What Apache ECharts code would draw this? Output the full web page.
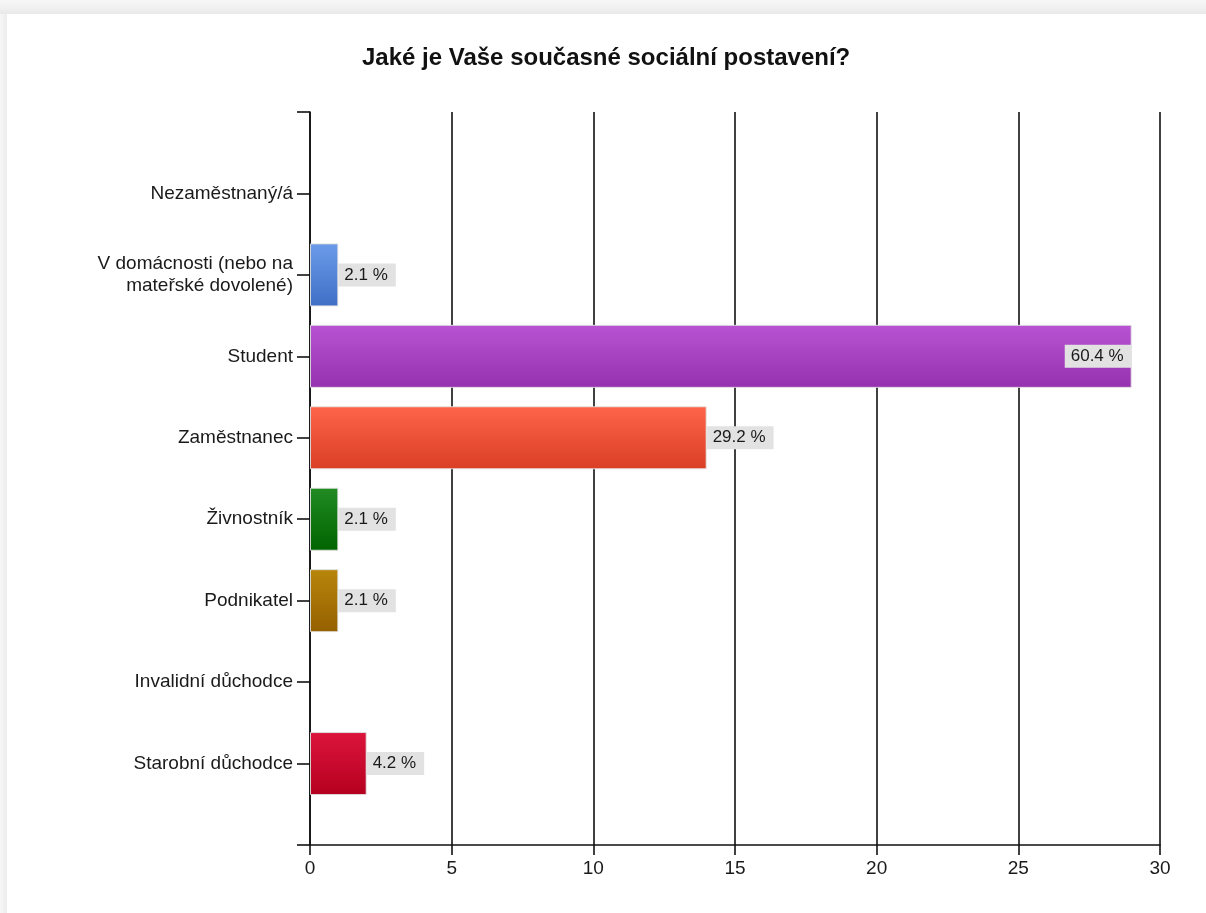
<!DOCTYPE html>
<html>
<head>
<meta charset="utf-8">
<script src="https://cdn.jsdelivr.net/npm/echarts@6/dist/echarts.min.js"></script>
<style>
  html, body { margin: 0; padding: 0; background: #ffffff; }
  #chart { width: 1206px; height: 913px; }
</style>
</head>
<body>
<div id="chart"></div>
<script>
// ---- data ----
const titleText = 'Jaké je Vaše současné sociální postavení?';
const categories = [
  'Nezaměstnaný/á',
  'V domácnosti (nebo na\nmateřské dovolené)',
  'Student',
  'Zaměstnanec',
  'Živnostník',
  'Podnikatel',
  'Invalidní důchodce',
  'Starobní důchodce'
];
const counts = [0, 1, 29, 14, 1, 1, 0, 2];
const percentLabels = [null, 2.1, 60.4, 29.2, 2.1, 2.1, null, 4.2];
const xMin = 0, xMax = 30, xStep = 5;

// ---- styles ----
const barGradients = [
  ['#6b9be8', '#3f6fc6'],
  ['#6b9be8', '#3f6fc6'],
  ['#b853d3', '#9530ae'],
  ['#fe6449', '#da3f25'],
  ['#228b22', '#006400'],
  ['#b8860b', '#956000'],
  ['#6b9be8', '#3f6fc6'],
  ['#dc143c', '#b5001f']
];
const insideLabel = [false, false, true, false, false, false, false, false];

const FONT = '"Liberation Sans", Arial, sans-serif';

// pad with an empty slot at top and bottom so categories sit like the reference
const axisCats = [''].concat(categories, ['']);
const barData = [null].concat(counts.map(function (v, i) {
  const g = barGradients[i];
  const p = percentLabels[i];
  return {
    value: v,
    itemStyle: {
      color: new echarts.graphic.LinearGradient(0, 0, 0, 1, [
        { offset: 0, color: g[0] },
        { offset: 1, color: g[1] }
      ]),
      borderColor: v > 0 ? 'rgba(225,225,225,0.9)' : 'transparent',
      borderWidth: v > 0 ? 1 : 0
    },
    label: {
      show: p !== null,
      position: insideLabel[i] ? 'insideRight' : 'right',
      distance: 0,
      formatter: p !== null ? p.toFixed(1) + ' %' : ''
    }
  };
}), [null]);

const chart = echarts.init(document.getElementById('chart'), null, { renderer: 'canvas' });
chart.setOption({
  backgroundColor: '#ffffff',
  animation: false,
  title: {
    text: titleText,
    left: 362,
    top: 46,
    padding: 0,
    textStyle: { fontFamily: FONT, fontSize: 24, fontWeight: 'bold', color: '#111111' }
  },
  graphic: [
    {
      type: 'rect', z: -10, silent: true,
      shape: { x: 0, y: 0, width: 1206, height: 14 },
      style: { fill: new echarts.graphic.LinearGradient(0, 0, 0, 1, [
        { offset: 0, color: '#f7f7f7' }, { offset: 0.6, color: '#f0f0f0' }, { offset: 1, color: '#e8e8e8' }
      ]) }
    },
    {
      type: 'rect', z: -10, silent: true,
      shape: { x: 0, y: 14, width: 7, height: 899 },
      style: { fill: new echarts.graphic.LinearGradient(0, 0, 1, 0, [
        { offset: 0, color: '#f7f7f7' }, { offset: 1, color: '#ececec' }
      ]) }
    }
  ],
  grid: { left: 310, right: 46, top: 112, bottom: 68, containLabel: false },
  xAxis: {
    type: 'value',
    min: xMin, max: xMax, interval: xStep,
    axisLine: { show: true, lineStyle: { color: '#111111', width: 1.6 } },
    axisTick: { show: true, length: 10, lineStyle: { color: '#111111', width: 1.6 } },
    splitLine: { show: true, lineStyle: { color: '#111111', width: 1.6 } },
    axisLabel: { fontFamily: FONT, fontSize: 19, color: '#1a1a1a', margin: 14 }
  },
  yAxis: {
    type: 'category',
    inverse: true,
    boundaryGap: false,
    data: axisCats,
    axisLine: { show: true, lineStyle: { color: '#111111', width: 1.6 } },
    axisTick: { show: true, length: 13, lineStyle: { color: '#111111', width: 1.6 } },
    splitLine: { show: false },
    axisLabel: {
      fontFamily: FONT, fontSize: 19, color: '#1a1a1a', margin: 17,
      lineHeight: 22, align: 'right', interval: 0
    }
  },
  series: [{
    type: 'bar',
    data: barData,
    barWidth: 63,
    label: {
      show: true,
      fontFamily: FONT,
      fontSize: 17,
      color: '#1a1a1a',
      backgroundColor: '#e2e2e2',
      padding: [3, 8, 2, 6],
      lineHeight: 18
    }
  }]
});
</script>
</body>
</html>
